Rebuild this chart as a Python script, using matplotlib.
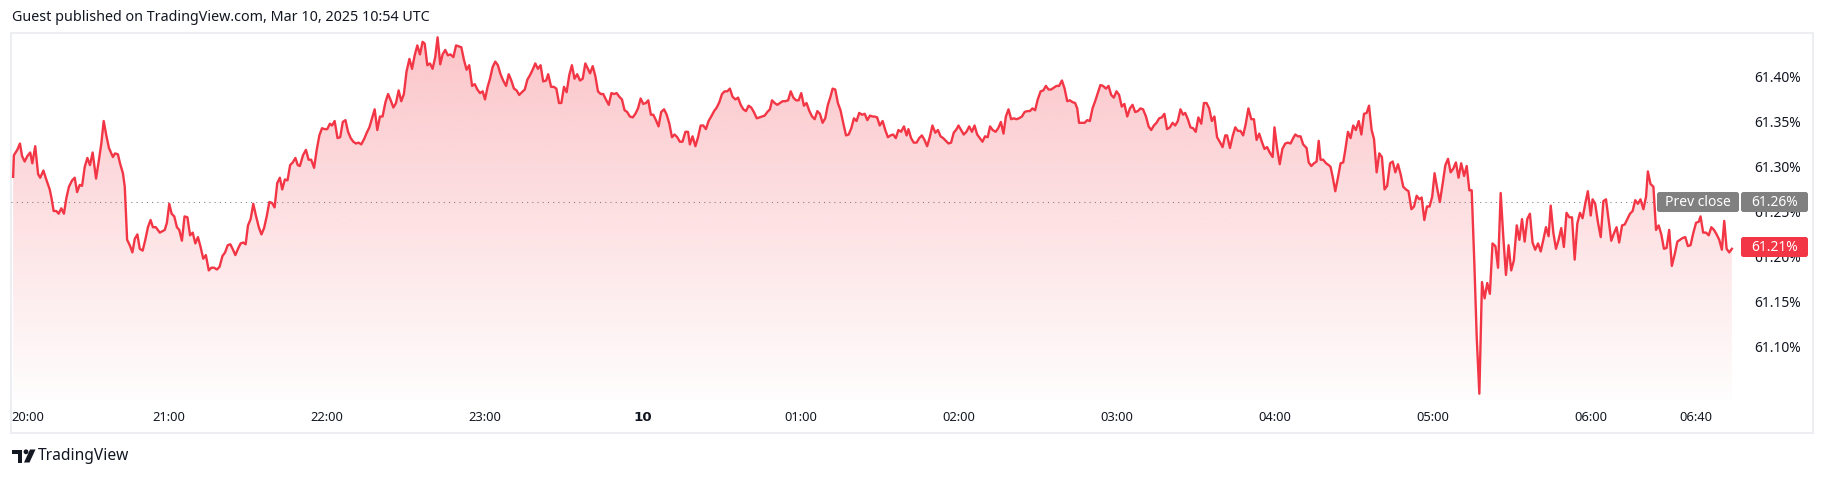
import matplotlib.pyplot as plt
import numpy as np
from matplotlib.colors import to_rgb
from matplotlib.patches import Rectangle, Polygon, Circle, FancyBboxPatch

# 1-minute bond yield trace (minutes after 20:00, value in %)
minutes_a = [0.8, 1.1, 2.4, 3.4, 4.2, 5.2, 6.2, 7.3, 8.1, 9.2,
             10.3, 11.1, 12.3, 13.4, 14.7, 15.4, 16.2, 17.2, 18.1, 19.1,
             20.1, 21.0, 22.0, 23.2, 24.2, 25.1, 26.1, 27.0, 28.0, 29.0,
             30.0, 31.0, 32.3, 33.3, 34.3, 35.2, 36.2, 37.2, 38.7, 39.5,
             40.6, 41.4, 42.5, 43.2, 44.1, 45.1, 46.1, 47.0, 48.0, 48.9,
             50.0, 51.0, 52.0, 53.0, 53.9, 55.0, 56.5, 58.4, 59.2, 60.1,
             61.0, 62.0, 63.0, 63.9, 64.9, 65.9, 67.0, 68.0, 69.0, 70.0,
             71.0, 72.0, 73.0, 74.0, 75.1, 76.1, 77.1, 78.2, 79.2, 80.3,
             81.3, 82.3, 83.3, 84.3, 85.2, 86.2, 87.2, 88.2, 89.1, 90.0,
             91.0, 92.0, 93.0, 94.1, 95.1, 96.1, 97.1, 98.1, 99.1, 100.1,
             101.1, 102.1, 103.0, 104.0, 105.0, 106.0, 107.0, 108.0, 108.9, 109.7,
             110.9, 112.0, 113.0, 114.0, 115.1, 116.1, 117.1, 118.1, 119.1, 120.1,
             121.1, 121.9, 122.9, 124.0, 125.0, 126.0, 127.0, 128.0, 129.0, 130.0,
             131.0, 132.0, 133.0, 134.1, 135.1, 136.1, 137.1, 138.1, 139.1, 140.1,
             141.1, 142.2, 143.2, 144.2, 145.2, 146.2, 147.2, 148.2, 149.2, 150.2,
             151.3, 152.3, 153.3, 154.3, 155.3, 156.3, 157.1, 158.1, 159.1, 160.1,
             161.1, 162.0, 163.0]
yields_a = [61.288, 61.312, 61.318, 61.325, 61.311, 61.305, 61.311, 61.315, 61.303, 61.322,
            61.291, 61.287, 61.295, 61.285, 61.274, 61.264, 61.250, 61.250, 61.247, 61.253,
            61.247, 61.264, 61.277, 61.284, 61.287, 61.271, 61.279, 61.278, 61.299, 61.309,
            61.301, 61.315, 61.286, 61.305, 61.325, 61.350, 61.334, 61.320, 61.310, 61.314,
            61.313, 61.303, 61.292, 61.277, 61.218, 61.212, 61.204, 61.219, 61.224, 61.208,
            61.206, 61.218, 61.232, 61.240, 61.232, 61.232, 61.226, 61.229, 61.237, 61.258,
            61.247, 61.244, 61.232, 61.229, 61.217, 61.244, 61.243, 61.223, 61.226, 61.214,
            61.221, 61.210, 61.197, 61.201, 61.184, 61.187, 61.187, 61.185, 61.188, 61.200,
            61.204, 61.212, 61.213, 61.207, 61.201, 61.208, 61.214, 61.215, 61.213, 61.234,
            61.241, 61.258, 61.245, 61.232, 61.224, 61.231, 61.244, 61.260, 61.259, 61.254,
            61.281, 61.287, 61.274, 61.285, 61.284, 61.301, 61.304, 61.309, 61.301, 61.300,
            61.312, 61.318, 61.307, 61.307, 61.298, 61.318, 61.334, 61.342, 61.341, 61.341,
            61.347, 61.345, 61.350, 61.331, 61.332, 61.349, 61.351, 61.338, 61.331, 61.327,
            61.325, 61.326, 61.324, 61.330, 61.337, 61.343, 61.353, 61.363, 61.340, 61.355,
            61.355, 61.371, 61.380, 61.373, 61.365, 61.370, 61.384, 61.372, 61.380, 61.405,
            61.419, 61.408, 61.423, 61.434, 61.424, 61.438, 61.436, 61.412, 61.414, 61.408,
            61.421, 61.443, 61.413]

minutes_b = [163.9, 164.9, 165.9, 166.9, 168.0, 169.0, 170.0, 171.0, 172.0, 173.0,
             174.0, 175.1, 176.1, 177.1, 178.1, 179.1, 180.0, 181.0, 181.9, 182.9,
             183.9, 184.9, 185.9, 186.9, 188.0, 189.0, 190.0, 191.0, 192.0, 193.0,
             194.0, 195.1, 196.1, 197.1, 198.1, 199.1, 200.1, 201.1, 202.1, 203.2,
             204.0, 205.1, 206.1, 207.1, 208.1, 209.0, 210.0, 211.0, 212.0, 213.0,
             214.0, 215.0, 216.1, 217.1, 218.1, 219.1, 219.9, 220.9, 221.9, 222.9,
             223.9, 224.9, 225.9, 227.0, 228.0, 229.0, 230.0, 231.0, 232.0, 233.0,
             234.0, 235.0, 236.1, 237.1, 238.1, 239.1, 240.1, 241.1, 242.0, 243.0,
             243.9, 244.9, 245.9, 246.9, 248.0, 249.0, 250.0, 251.0, 252.0, 253.0,
             254.0, 255.0, 256.1, 257.1, 257.8, 258.8, 259.9, 260.9, 261.9, 262.9,
             263.9, 264.9, 265.9, 267.0, 268.0, 269.0, 270.0, 271.0, 272.0, 273.0,
             274.0, 275.1, 276.1, 277.1, 278.1, 279.1, 280.1, 281.1, 282.1, 283.2,
             284.2, 285.2, 286.2, 287.2, 288.2, 289.0, 290.0, 291.0, 292.0, 293.0,
             294.0, 295.1, 296.1, 297.1, 298.1, 299.1, 300.1, 301.1, 302.1, 303.2,
             304.2, 305.2, 306.2, 307.2, 308.2, 309.2, 310.2, 311.2, 312.0, 313.0,
             314.0, 315.0, 316.1, 317.1, 318.1, 319.1, 320.1, 321.1, 322.1, 323.2,
             324.2, 325.2, 326.2, 327.2]
yields_b = [61.424, 61.429, 61.423, 61.424, 61.421, 61.434, 61.433, 61.432, 61.418, 61.407,
            61.412, 61.389, 61.391, 61.385, 61.381, 61.383, 61.374, 61.388, 61.397, 61.410,
            61.416, 61.412, 61.402, 61.395, 61.389, 61.402, 61.395, 61.386, 61.384, 61.379,
            61.382, 61.385, 61.396, 61.401, 61.407, 61.414, 61.408, 61.412, 61.394, 61.395,
            61.402, 61.388, 61.388, 61.386, 61.370, 61.370, 61.388, 61.382, 61.401, 61.412,
            61.397, 61.402, 61.395, 61.397, 61.414, 61.408, 61.403, 61.411, 61.400, 61.383,
            61.380, 61.380, 61.374, 61.368, 61.381, 61.380, 61.381, 61.377, 61.374, 61.362,
            61.360, 61.355, 61.354, 61.358, 61.364, 61.375, 61.369, 61.370, 61.373, 61.357,
            61.357, 61.351, 61.344, 61.360, 61.363, 61.357, 61.347, 61.332, 61.335, 61.332,
            61.327, 61.327, 61.338, 61.338, 61.324, 61.333, 61.322, 61.332, 61.345, 61.345,
            61.341, 61.350, 61.355, 61.361, 61.365, 61.371, 61.380, 61.383, 61.383, 61.386,
            61.377, 61.374, 61.376, 61.368, 61.363, 61.361, 61.367, 61.365, 61.360, 61.353,
            61.354, 61.355, 61.356, 61.360, 61.363, 61.373, 61.370, 61.368, 61.370, 61.372,
            61.372, 61.373, 61.383, 61.376, 61.373, 61.373, 61.381, 61.367, 61.370, 61.361,
            61.355, 61.352, 61.361, 61.358, 61.348, 61.353, 61.368, 61.377, 61.386, 61.385,
            61.370, 61.362, 61.347, 61.334, 61.335, 61.342, 61.353, 61.350, 61.359, 61.357,
            61.358, 61.351, 61.356, 61.355]

minutes_c = [327.9, 328.9, 329.9, 331.0, 332.0, 333.0, 334.0, 335.0, 336.0, 337.0,
             338.0, 339.1, 340.1, 340.8, 341.8, 342.8, 343.9, 344.9, 345.9, 346.9,
             347.9, 348.9, 349.9, 351.0, 352.0, 353.0, 354.0, 355.0, 356.0, 357.0,
             358.0, 359.1, 359.8, 360.8, 361.8, 362.8, 363.9, 364.9, 365.9, 366.9,
             367.9, 368.9, 369.9, 370.9, 371.8, 372.8, 373.9, 374.9, 375.9, 376.9,
             377.8, 378.8, 379.8, 380.8, 381.8, 382.8, 383.9, 384.9, 385.9, 386.9,
             387.9, 388.9, 389.9, 391.0, 392.0, 393.0, 394.0, 395.0, 396.0, 397.0,
             398.0, 399.1, 400.1, 401.1, 402.1, 403.1, 404.1, 404.9, 405.6, 406.6,
             407.7, 408.7, 409.7, 410.7, 411.7, 412.7, 413.7, 414.7, 415.8, 416.8,
             417.8, 418.8, 419.8, 420.8, 421.8, 422.8, 423.9, 424.9, 425.9, 426.9,
             427.9, 428.9, 429.9, 431.0, 432.0, 433.0, 434.0, 435.0, 436.0, 437.0,
             438.0, 439.0, 440.1, 441.1, 442.1, 443.1, 444.1, 445.1, 445.9, 446.9,
             447.9, 448.9, 449.9, 450.9, 452.0, 453.0, 454.0, 455.0, 456.0, 457.0,
             458.0, 459.0, 460.1, 461.1, 461.8, 462.9, 463.9, 464.9, 465.9, 466.9,
             467.9, 468.9, 469.9, 471.0, 472.0, 473.0, 474.0, 475.0, 476.0, 477.0,
             478.0, 479.1, 479.8, 480.8, 481.8, 482.8, 483.9, 484.9, 485.9, 486.9,
             487.7, 488.7, 489.7, 490.7]
yields_c = [61.355, 61.354, 61.345, 61.350, 61.340, 61.332, 61.334, 61.335, 61.331, 61.340,
            61.338, 61.344, 61.334, 61.341, 61.331, 61.326, 61.326, 61.331, 61.334, 61.329,
            61.322, 61.332, 61.345, 61.337, 61.340, 61.333, 61.331, 61.328, 61.325, 61.326,
            61.337, 61.341, 61.345, 61.340, 61.335, 61.338, 61.344, 61.338, 61.345, 61.335,
            61.331, 61.327, 61.333, 61.332, 61.344, 61.340, 61.338, 61.342, 61.349, 61.336,
            61.355, 61.363, 61.352, 61.353, 61.352, 61.353, 61.355, 61.360, 61.361, 61.361,
            61.364, 61.362, 61.374, 61.383, 61.384, 61.389, 61.385, 61.385, 61.387, 61.389,
            61.389, 61.395, 61.386, 61.372, 61.373, 61.371, 61.370, 61.364, 61.348, 61.348,
            61.348, 61.351, 61.350, 61.364, 61.372, 61.381, 61.390, 61.389, 61.386, 61.389,
            61.379, 61.376, 61.383, 61.379, 61.366, 61.369, 61.355, 61.364, 61.368, 61.360,
            61.361, 61.364, 61.363, 61.355, 61.344, 61.340, 61.345, 61.348, 61.353, 61.354,
            61.358, 61.341, 61.343, 61.348, 61.345, 61.350, 61.363, 61.357, 61.359, 61.352,
            61.343, 61.342, 61.338, 61.354, 61.347, 61.370, 61.370, 61.364, 61.350, 61.355,
            61.332, 61.327, 61.321, 61.334, 61.334, 61.320, 61.333, 61.343, 61.339, 61.339,
            61.334, 61.347, 61.364, 61.352, 61.352, 61.329, 61.336, 61.327, 61.319, 61.321,
            61.315, 61.310, 61.343, 61.320, 61.302, 61.319, 61.325, 61.326, 61.325, 61.331,
            61.335, 61.333, 61.333, 61.324]

minutes_d = [492.0, 492.8, 493.8, 494.8, 495.8, 496.6, 497.3, 498.3, 499.4, 500.4,
             501.1, 501.9, 502.9, 503.9, 504.9, 505.9, 506.7, 507.7, 508.7, 509.7,
             510.7, 511.8, 512.8, 513.8, 514.8, 515.7, 516.7, 517.6, 518.6, 519.6,
             520.6, 521.6, 522.6, 523.7, 524.7, 525.7, 526.7, 527.7, 528.7, 529.7,
             530.7, 531.8, 532.8, 533.8, 534.8, 535.7, 536.7, 537.7, 538.7, 539.7,
             540.6, 541.6, 542.6, 543.7, 544.7, 545.7, 546.7, 547.7, 548.7, 549.7,
             550.7, 551.8, 552.8, 553.8, 554.7, 555.7, 556.6, 557.6, 558.6, 559.6,
             560.6, 561.6, 562.6, 563.7, 564.7, 565.7, 566.7, 567.7, 568.7, 569.7,
             570.7, 571.8, 572.8, 573.8, 574.8, 575.8, 576.8, 577.8, 578.8, 579.9,
             580.9, 581.9, 582.9, 583.9, 584.7, 585.7, 586.7, 587.7, 588.7, 589.7,
             590.7, 591.8, 592.8, 593.8, 594.8, 595.8, 596.8, 597.8, 598.8, 599.9,
             600.6, 601.6, 602.6, 603.7, 604.7, 605.7, 606.7, 607.7, 608.7, 609.7,
             610.7, 611.8, 612.8, 613.8, 614.8, 615.8, 616.8, 617.8, 618.8, 619.9,
             620.9, 621.6, 622.6, 623.7, 624.7, 625.7, 626.7, 627.7, 628.7, 629.7,
             630.7, 631.8, 632.8, 633.8, 634.8, 635.8, 636.8, 637.8, 638.8, 639.9,
             640.9, 641.6, 642.6, 643.7, 644.7, 645.7, 646.7, 647.7, 648.7, 649.7,
             650.6, 651.5, 652.5, 653.5]
yields_d = [61.320, 61.304, 61.300, 61.303, 61.305, 61.328, 61.307, 61.307, 61.303, 61.301,
            61.299, 61.288, 61.272, 61.287, 61.303, 61.304, 61.318, 61.338, 61.331, 61.345,
            61.340, 61.350, 61.335, 61.358, 61.359, 61.367, 61.340, 61.330, 61.293, 61.314,
            61.310, 61.274, 61.278, 61.303, 61.305, 61.293, 61.302, 61.291, 61.277, 61.274,
            61.272, 61.252, 61.255, 61.267, 61.263, 61.265, 61.240, 61.255, 61.255, 61.266,
            61.292, 61.275, 61.260, 61.281, 61.301, 61.308, 61.293, 61.297, 61.304, 61.287,
            61.303, 61.289, 61.300, 61.273, 61.273, 61.192, 61.110, 61.047, 61.171, 61.153,
            61.170, 61.158, 61.214, 61.211, 61.187, 61.270, 61.221, 61.179, 61.212, 61.184,
            61.195, 61.234, 61.218, 61.241, 61.216, 61.241, 61.247, 61.215, 61.207, 61.214,
            61.205, 61.218, 61.232, 61.222, 61.256, 61.226, 61.208, 61.218, 61.231, 61.210,
            61.248, 61.243, 61.243, 61.196, 61.236, 61.248, 61.242, 61.258, 61.272, 61.245,
            61.263, 61.258, 61.238, 61.221, 61.261, 61.263, 61.240, 61.217, 61.225, 61.232,
            61.215, 61.234, 61.235, 61.241, 61.247, 61.250, 61.262, 61.258, 61.263, 61.252,
            61.266, 61.294, 61.280, 61.277, 61.229, 61.234, 61.224, 61.208, 61.209, 61.229,
            61.189, 61.202, 61.216, 61.218, 61.220, 61.221, 61.211, 61.212, 61.225, 61.237,
            61.238, 61.244, 61.226, 61.226, 61.223, 61.232, 61.229, 61.224, 61.218, 61.207,
            61.239, 61.208, 61.204, 61.208]

prev_close = 61.26
last_value = 61.21

x_ticks = [0, 60, 120, 180, 240, 300, 360, 420, 480, 540, 600, 640]
x_labels = ["20:00", "21:00", "22:00", "23:00", "10", "01:00", "02:00",
            "03:00", "04:00", "05:00", "06:00", "06:40"]
y_ticks = [61.10, 61.15, 61.20, 61.25, 61.30, 61.35, 61.40]

title = "Guest published on TradingView.com, Mar 10, 2025 10:54 UTC"

RED = "#f23645"
TEXT = "#131722"
LABEL_GREY = "#808080"
DOT_GREY = "#787b86"
FRAME = "#eceef2"

W, H = 1827, 478
plt.rcParams["font.family"] = ["Noto Sans", "DejaVu Sans"]

minutes = np.array(minutes_a + minutes_b + minutes_c + minutes_d)
yields = np.array(yields_a + yields_b + yields_c + yields_d)

fig = plt.figure(figsize=(W / 100, H / 100), dpi=100)
fig.patch.set_facecolor("white")

# pixel overlay for frame / header / footer
bg = fig.add_axes([0, 0, 1, 1], zorder=0)
bg.set_xlim(0, W)
bg.set_ylim(H, 0)
bg.axis("off")
bg.add_patch(Rectangle((11, 33), 1802, 400, fill=False, edgecolor=FRAME, lw=1.5))
bg.text(12, 17, title, fontsize=10.3, color=TEXT, va="center", ha="left")

# TradingView footer logo
bg.add_patch(Rectangle((12, 449.5), 10, 4.5, color=TEXT, lw=0))
bg.add_patch(Rectangle((17.5, 449.5), 4.5, 13, color=TEXT, lw=0))
bg.add_patch(Circle((26, 451.8), 2.4, color=TEXT, lw=0))
bg.add_patch(Polygon([(30, 449.5), (35.5, 449.5), (29.5, 462.5), (24, 462.5)], color=TEXT, lw=0))
bg.text(38, 456, "TradingView", fontsize=11.2, color=TEXT, va="center", ha="left")

# price pane
pane_l, pane_r, pane_t, pane_b = 11, 1745, 33, 400
ax = fig.add_axes([pane_l / W, 1 - pane_b / H, (pane_r - pane_l) / W, (pane_b - pane_t) / H],
                  zorder=1)
ax.patch.set_alpha(0)
y_bottom = 61.04
y_top = 61.4478
x_max = (pane_r - pane_l) / (158 / 60)

ax.plot(minutes, yields, color=RED, lw=1.7, solid_joinstyle="round", zorder=3)

grad = np.zeros((256, 1, 4))
grad[..., :3] = to_rgb(RED)
grad[:, 0, 3] = np.linspace(0.29, 0.01, 256)
img = ax.imshow(grad, extent=[minutes[0], minutes[-1], y_bottom, yields.max()],
                aspect="auto", origin="upper", zorder=1, interpolation="bilinear")
poly = ax.fill_between(minutes, yields, y_bottom, facecolor="none", edgecolor="none")
img.set_clip_path(poly.get_paths()[0], transform=ax.transData)

ax.axhline(prev_close, xmin=0, xmax=(1657 - pane_l) / (pane_r - pane_l), color=DOT_GREY,
           lw=0.75, linestyle=(0, (1, 4)), zorder=2)

ax.set_xlim(0, x_max)
ax.set_ylim(y_bottom, y_top)

ax.set_xticks(x_ticks)
ax.set_xticklabels(x_labels)
ax.tick_params(axis="x", length=0, pad=8, labelsize=9.3, labelcolor=TEXT)
xticks = ax.xaxis.get_major_ticks()
xticks[0].label1.set_horizontalalignment("left")
xticks[4].label1.set_fontfamily("DejaVu Sans")
xticks[4].label1.set_fontweight("bold")
xticks[4].label1.set_fontsize(9.6)

ax.yaxis.tick_right()
ax.set_yticks(y_ticks)
ax.set_yticklabels([f"{v:.2f}%" for v in y_ticks])
ax.tick_params(axis="y", length=0, pad=7, labelsize=10, labelcolor=TEXT)
for s in ax.spines.values():
    s.set_visible(False)

# price labels on the right scale, in a pixel overlay above the pane
fg = fig.add_axes([0, 0, 1, 1], zorder=2)
fg.set_xlim(0, W)
fg.set_ylim(H, 0)
fg.axis("off")


def to_px(value):
    return fg.transData.inverted().transform(ax.transData.transform((0, value)))[1]


box_h = 20
for x0, w, value, color, text in [
    (1657, 82, prev_close, LABEL_GREY, "Prev close"),
    (1741, 67, prev_close, LABEL_GREY, f"{prev_close:.2f}%"),
    (1741, 67, last_value, RED, f"{last_value:.2f}%"),
]:
    yc = to_px(value)
    fg.add_patch(FancyBboxPatch((x0, yc - box_h / 2), w, box_h,
                                boxstyle="round,pad=0,rounding_size=2.5",
                                facecolor=color, edgecolor="none"))
    fg.text(x0 + w / 2, yc, text, color="white", fontsize=10, ha="center", va="center")

fig.savefig("out.png", dpi=100)
